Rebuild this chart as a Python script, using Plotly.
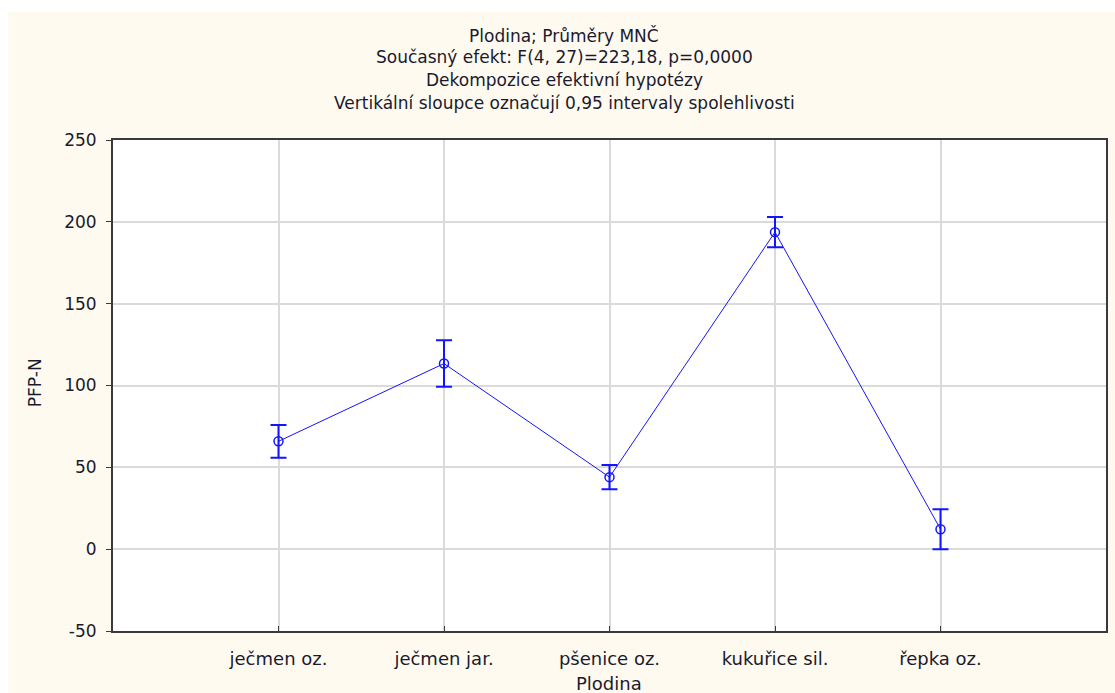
import plotly.graph_objects as go

# Crop means (PFP-N) with half-widths of the 0.95 confidence intervals
categories = ["ječmen oz.", "ječmen jar.", "pšenice oz.", "kukuřice sil.", "řepka oz."]
positions = [1, 2, 3, 4, 5]
means = [65.9, 113.4, 44.0, 193.7, 12.2]
ci_half = [10.0, 14.2, 7.4, 9.2, 12.2]
y_ticks = [-50, 0, 50, 100, 150, 200, 250]
y_tick_labels = ["-50", "0", "50", "100", "150", "200", "250"]

title_lines = [
    "Plodina; Průměry MNČ",
    "Současný efekt: F(4, 27)=223,18, p=0,0000",
    "Dekompozice efektivní hypotézy",
    "Vertikální sloupce označují 0,95 intervaly spolehlivosti",
]

W, H = 1115, 693
L, R, T, B = 113, 7, 140, 62
pw, ph = W - L - R, H - T - B


def px_x(x):
    return (x - L) / pw


def px_y(y):
    return (H - B - y) / ph


BLUE = "#1414ff"
FONT = "DejaVu Sans"
TXT = "#1a1a2e"

fig = go.Figure(
    go.Scatter(
        x=positions,
        y=means,
        mode="lines+markers",
        line=dict(color=BLUE, width=1),
        marker=dict(symbol="circle-open", size=9, color=BLUE, line=dict(width=1.5, color=BLUE)),
        error_y=dict(type="data", array=ci_half, visible=True, color=BLUE, thickness=2, width=8),
        showlegend=False,
    )
)

annotations = []
for y_px, line in zip([35, 57, 80, 103], title_lines):
    annotations.append(dict(
        text=line, xref="paper", yref="paper", x=px_x(565), y=px_y(y_px),
        xanchor="center", yanchor="middle", showarrow=False,
        font=dict(family=FONT, size=17, color=TXT),
    ))
annotations.append(dict(
    text="PFP-N", xref="paper", yref="paper", x=px_x(35), y=px_y(383),
    xanchor="center", yanchor="middle", textangle=-90, showarrow=False,
    font=dict(family=FONT, size=17, color=TXT),
))
annotations.append(dict(
    text="Plodina", xref="paper", yref="paper", x=px_x(610), y=px_y(683),
    xanchor="center", yanchor="middle", showarrow=False,
    font=dict(family=FONT, size=18, color=TXT),
))

shapes = [
    dict(type="rect", xref="paper", yref="paper", x0=-0.3, x1=1.2, y0=px_y(12), y1=1.5,
         fillcolor="white", line=dict(width=0), layer="below"),
    dict(type="rect", xref="paper", yref="paper", x0=-0.3, x1=px_x(8), y0=-0.3, y1=1.5,
         fillcolor="white", line=dict(width=0), layer="below"),
]

fig.update_layout(
    width=W, height=H,
    margin=dict(l=L, r=R, t=T, b=B),
    paper_bgcolor="#fffaf0",
    plot_bgcolor="white",
    annotations=annotations,
    shapes=shapes,
    xaxis=dict(
        range=[0, 6], tickvals=positions, ticktext=categories,
        showgrid=True, gridcolor="#dadada", gridwidth=1.5, zeroline=False,
        showline=True, mirror=True, linecolor="#3a3a3a", linewidth=2,
        ticks="inside", ticklen=5, tickcolor="#3a3a3a",
        ticklabelstandoff=10,
        tickfont=dict(family=FONT, size=18, color=TXT),
    ),
    yaxis=dict(
        range=[-50, 250], tickvals=y_ticks, ticktext=y_tick_labels,
        showgrid=True, gridcolor="#dadada", gridwidth=1.5, zeroline=False,
        showline=True, mirror=True, linecolor="#3a3a3a", linewidth=2,
        ticks="outside", ticklen=5, tickcolor="#3a3a3a",
        ticklabelstandoff=6,
        tickfont=dict(family=FONT, size=17, color=TXT),
    ),
)

fig.write_html("out.html")
